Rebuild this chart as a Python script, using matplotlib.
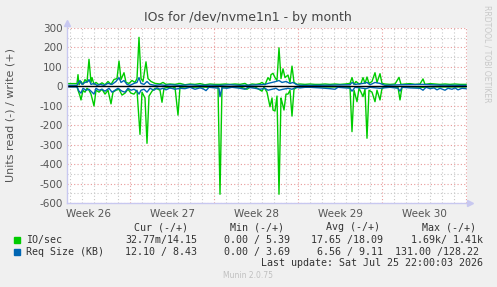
import matplotlib
matplotlib.use("Agg")
import matplotlib.pyplot as plt
from matplotlib.lines import Line2D
import numpy as np

plt.rcParams['axes.unicode_minus'] = False

# time in 2-hour RRD steps from left edge of graph
io_write_t = [0,10,11,12,14,16,18,20,22,24,25,27,29,32,35,38,41,44,47,50,52,54,57,59,62,65,68,70,72,74,76,79,81,84,88,93,96,99,103,108,113,118,123,128,133,138,143,148,153,158,163,168,173,178,181,185,189,193,195,198,201,203,204,206,208,210,212,214,216,218,221,223,225,227,230,233,238,243,248,253,258,263,268,273,278,283,285,287,289,292,294,296,298,300,302,305,308,310,313,315,318,323,328,332,334,338,343,348,353,356,358,363,368,373,378,383,388,393,399]
io_write_v = [14,14,60,8,25,10,35,20,139,20,45,10,20,8,18,8,25,10,35,40,130,35,70,20,15,30,20,40,252,40,25,126,40,25,15,12,20,10,12,10,15,8,12,10,14,8,12,10,10,12,10,12,10,15,5,12,10,14,20,8,45,30,60,67,45,30,198,40,90,45,58,20,104,20,10,12,10,12,10,10,12,10,12,10,12,15,45,10,25,12,15,45,15,48,15,25,70,20,65,15,12,10,12,46,10,12,14,10,12,38,10,14,12,10,12,10,12,10,10]

io_read_t = [0,10,11,13,14,16,18,20,22,24,27,29,32,35,38,41,44,46,49,52,55,58,61,64,67,70,73,75,78,80,82,85,88,91,93,95,97,101,105,108,111,113,118,123,133,143,151,153,155,163,173,180,183,188,195,197,200,203,205,206,208,210,212,214,215,217,219,221,223,225,227,230,233,253,273,283,285,287,290,292,294,296,298,300,302,305,308,310,313,315,318,331,333,335,343,356,363,399]
io_read_v = [0,0,20,50,70,20,30,10,20,40,101,20,30,15,40,20,90,30,20,15,45,35,15,35,40,20,247,30,60,293,50,25,10,15,20,82,10,5,10,5,148,5,3,5,3,5,2,555,3,5,3,15,5,3,25,5,30,105,60,122,127,50,555,60,80,122,40,40,20,153,15,5,3,3,3,5,233,20,79,10,30,53,15,267,20,30,79,20,70,10,3,5,70,5,3,5,3,3]

rq_write_t = [0,10,11,13,15,18,21,22,24,27,30,33,37,41,45,49,52,54,57,60,63,67,70,72,74,77,80,83,88,93,98,103,113,123,133,143,153,163,173,183,193,198,201,205,209,212,215,219,223,226,230,233,243,263,283,285,288,296,300,303,308,313,318,333,356,373,399]
rq_write_v = [5,5,15,30,10,20,25,35,10,15,5,10,5,15,10,25,45,20,30,10,5,15,20,45,15,10,25,10,5,8,5,8,5,8,5,6,5,8,5,6,8,10,15,20,25,30,20,25,15,20,8,5,5,6,8,20,10,15,20,8,20,15,5,8,10,6,5]

rq_read_t = [0,10,12,14,16,19,22,25,27,29,32,35,38,42,45,48,51,55,58,61,64,67,70,72,74,77,80,83,87,90,93,96,99,103,108,113,118,123,128,133,136,139,142,148,152,153,155,160,165,173,178,181,188,193,198,201,205,209,212,216,221,225,229,233,238,243,253,263,268,271,278,283,285,288,293,299,303,313,323,331,333,335,343,353,356,359,363,367,370,373,378,381,385,388,391,395,399]
rq_read_v = [3,3,25,35,10,20,15,30,40,10,20,15,25,10,30,20,10,25,30,10,20,15,25,40,20,15,30,10,20,8,15,10,18,8,15,10,12,5,15,8,12,22,5,8,10,53,8,10,5,10,15,5,10,15,10,20,15,10,20,15,10,15,5,8,5,5,8,12,15,5,8,10,25,5,8,12,5,10,5,10,25,5,8,10,20,5,12,8,18,10,20,10,15,8,18,10,12]

week_labels = ["Week 26", "Week 27", "Week 28", "Week 29", "Week 30"]
y_ticks = [300, 200, 100, 0, -100, -200, -300, -400, -500, -600]

legend_header = ["Cur (-/+)", "Min (-/+)", "Avg (-/+)", "Max (-/+)"]
io_stats = ["32.77m/14.15", "0.00 / 5.39", "17.65 /18.09", "1.69k/ 1.41k"]
rq_stats = ["12.10 / 8.43", "0.00 / 3.69", "6.56 / 9.11", "131.00 /128.22"]

GREEN = "#00CC00"
BLUE = "#0066B3"
W, H = 497, 287

fig = plt.figure(figsize=(W/100, H/100), dpi=100, facecolor="#F0F0F0")
def fx(x): return x / W
def fy(y): return 1 - y / H

ax = fig.add_axes([fx(67), fy(203), fx(467) - fx(67), fy(28) - fy(203)])
ax.set_facecolor("white")
ax.set_xlim(0, 400)
ax.set_ylim(-600, 300)

# grid
for x in np.arange(3, 400, 12):
    if (x - 63) % 84 == 0:
        continue
    ax.axvline(x, color="#c8c8c8", lw=0.8, ls=(0, (1, 2)), zorder=1)
for x in [63, 147, 231, 315, 399]:
    ax.axvline(x, color="#e89a9a", lw=0.8, ls=(0, (1, 2)), zorder=1)
for y in range(-550, 300, 100):
    ax.axhline(y, color="#c8c8c8", lw=0.8, ls=(0, (1, 2)), zorder=1)
for y in y_ticks:
    ax.axhline(y, color="#e89a9a", lw=0.8, ls=(0, (1, 2)), zorder=1)

ax.plot(io_write_t, io_write_v, color=GREEN, lw=1.0, zorder=3)
ax.plot(io_read_t, [-v for v in io_read_v], color=GREEN, lw=1.0, zorder=3)
ax.plot(rq_write_t, rq_write_v, color=BLUE, lw=1.0, zorder=4)
ax.plot(rq_read_t, [-v for v in rq_read_v], color=BLUE, lw=1.0, zorder=4)
ax.axhline(0, color="black", lw=1.0, zorder=5)

for s in ax.spines.values():
    s.set_visible(False)
ax.set_yticks(y_ticks)
ax.set_yticklabels([str(v) for v in y_ticks], fontsize=7.5, color="#555555")
ax.set_xticks([21, 105, 189, 273, 357])
ax.set_xticklabels(week_labels, fontsize=7.5, color="#555555")
ax.tick_params(axis="both", length=0, pad=3)
ax.tick_params(axis="x", pad=4)

# axis lines + arrows
axcol = "#c8c8f0"
fig.add_artist(Line2D([fx(67), fx(67)], [fy(203), fy(24)], color=axcol, lw=1))
fig.add_artist(Line2D([fx(67), fx(469)], [fy(203), fy(203)], color=axcol, lw=1))
fig.add_artist(Line2D([fx(67)], [fy(23)], marker="^", markersize=5, color=axcol))
fig.add_artist(Line2D([fx(470)], [fy(203)], marker=">", markersize=5, color=axcol))

fig.text(fx(248), fy(18), "IOs for /dev/nvme1n1 - by month", ha="center", va="center",
         fontsize=9, color="#444444")
fig.text(fx(11), fy(115), "Units read (-) / write (+)", rotation=90, ha="center",
         va="center", fontsize=8, color="#555555")
fig.text(fx(487), fy(5), "RRDTOOL / TOBI OETIKER", rotation=270, ha="center", va="top",
         fontsize=5.5, color="#c8c8c8")

mono = dict(family="DejaVu Sans Mono", fontsize=7.2, color="#333333", va="center")
hx = [161, 257, 353, 449]
for x, t in zip(hx, legend_header):
    fig.text(fx(x), fy(227.5), t, ha="center", **mono)
stat_right = [197, 290, 383, 483]
fig.add_artist(plt.Rectangle((fx(14), fy(243)), fx(6), fy(237) - fy(243), color=GREEN,
                             transform=fig.transFigure))
fig.add_artist(plt.Rectangle((fx(14), fy(255)), fx(6), fy(249) - fy(255), color=BLUE,
                             transform=fig.transFigure))
fig.text(fx(26), fy(240), "IO/sec", ha="left", **mono)
fig.text(fx(26), fy(252), "Req Size (KB)", ha="left", **mono)
for x, t in zip(stat_right, io_stats):
    fig.text(fx(x), fy(240), t, ha="right", **mono)
for x, t in zip([197, 290, 383, 479], rq_stats):
    fig.text(fx(x), fy(252), t, ha="right", **mono)
fig.text(fx(483), fy(263.5), "Last update: Sat Jul 25 22:00:03 2026", ha="right", **mono)
fig.text(fx(248), fy(276), "Munin 2.0.75", ha="center", va="center", fontsize=5.5,
         color="#c0c0c0")

fig.savefig("out.png", dpi=100, facecolor=fig.get_facecolor())
